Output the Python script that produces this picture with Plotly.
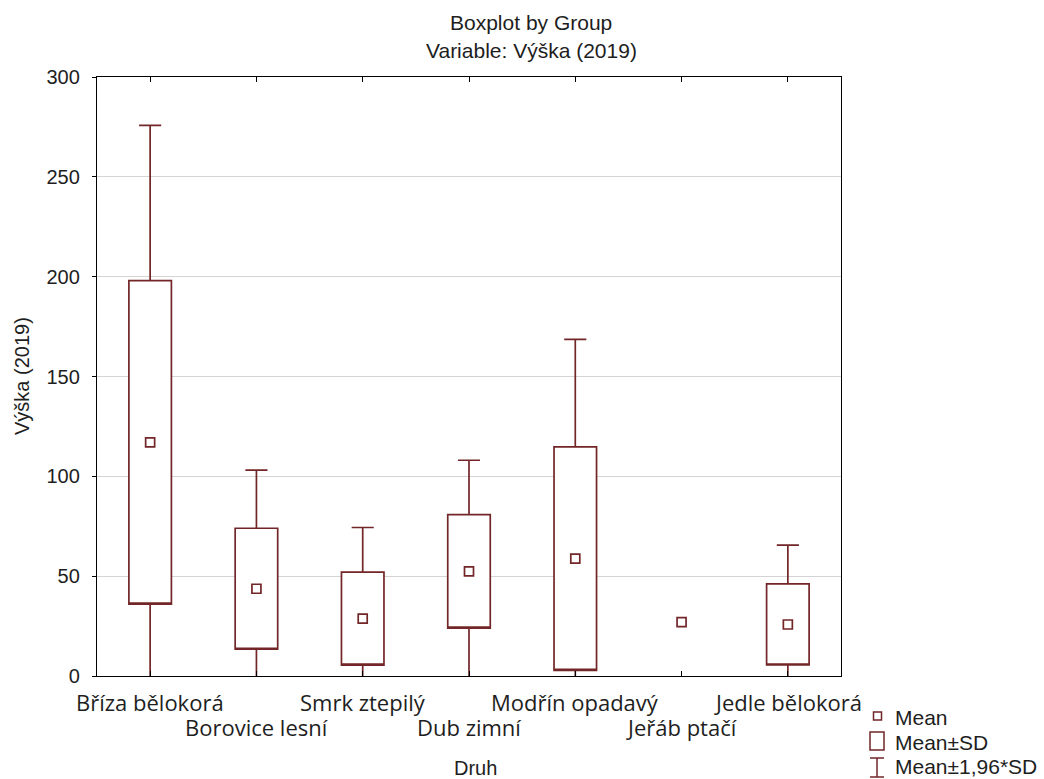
import plotly.graph_objects as go

# Species (Druh) and height statistics for 2019
druh = ["Bříza bělokorá", "Borovice lesní", "Smrk ztepilý", "Dub zimní",
        "Modřín opadavý", "Jeřáb ptačí", "Jedle bělokorá"]
prumer = [117.0, 43.7, 28.7, 52.4, 58.8, 27.0, 25.8]   # mean
smodch = [81.0, 30.3, 23.3, 28.4, 56.0, 0.0, 20.3]     # standard deviation
y_ticks = [0, 50, 100, 150, 200, 250, 300]

W, H = 1044, 779
ML, MR, MT, MB = 97, 203, 77, 103
PW, PH = W - ML - MR, H - MT - MB
RED = "#722628"
FONT = "Liberation Sans"
CAT_FONT = "Open Sans"
TXT = "#1e1e1e"


def px(X):
    return (X - ML) / PW


def py(Y):
    return (H - MB - Y) / PH


# Mean±SD boxes with Mean±1.96*SD whiskers (groups with spread only)
idx = [i for i, s in enumerate(smodch) if s > 0]
bx = [druh[i] for i in idx]
q1 = [prumer[i] - smodch[i] for i in idx]
q3 = [prumer[i] + smodch[i] for i in idx]
lo = [prumer[i] - 1.96 * smodch[i] for i in idx]
hi = [prumer[i] + 1.96 * smodch[i] for i in idx]

fig = go.Figure()
fig.add_trace(go.Box(
    x=bx, q1=q1, median=q1, q3=q3, lowerfence=lo, upperfence=hi,
    width=0.4, whiskerwidth=0.52, fillcolor="white",
    line=dict(color=RED, width=1.7), boxpoints=False,
    hoverinfo="skip", showlegend=False,
))
fig.add_trace(go.Scatter(
    x=druh, y=prumer, mode="markers",
    marker=dict(symbol="square-open", size=9, color=RED, line=dict(width=1.7)),
    showlegend=False,
))

fig.update_layout(
    width=W, height=H,
    margin=dict(l=ML, r=MR, t=MT, b=MB, autoexpand=False),
    paper_bgcolor="white", plot_bgcolor="white",
    font=dict(family=FONT, size=15, color=TXT),
    showlegend=False,
    xaxis=dict(
        type="category", categoryorder="array", categoryarray=druh,
        range=[-0.5, 6.5], tickmode="array", tickvals=druh,
        showticklabels=False, automargin=False,
        ticks="inside", ticklen=5, tickcolor="black", mirror="ticks",
        showline=True, linecolor="black", linewidth=1.3, showgrid=False,
    ),
    yaxis=dict(
        range=[0, 300], tickvals=y_ticks, ticks="outside", ticklen=4,
        tickcolor="black", showline=True, linecolor="black", linewidth=1.3,
        mirror=True, showgrid=True, gridcolor="#d4d4d4", gridwidth=1,
        zeroline=False, automargin=False, ticklabelstandoff=8,
        tickfont=dict(family=FONT, size=20, color=TXT),
    ),
    yaxis2=dict(
        overlaying="y", side="right", range=[0, 300], tickvals=y_ticks,
        ticks="inside", ticklen=5, tickcolor="black", showticklabels=False,
        showgrid=False, zeroline=False, showline=False, automargin=False,
    ),
)


def label(text, X, Y, size, xanchor="center", angle=0, family=FONT):
    fig.add_annotation(x=px(X), y=py(Y), xref="paper", yref="paper",
                       text=text, showarrow=False, xanchor=xanchor,
                       yanchor="middle", textangle=angle,
                       font=dict(family=family, size=size, color=TXT))


# Category labels, alternating between two rows
for i, d in enumerate(druh):
    fig.add_annotation(x=d, y=py(702 if i % 2 == 0 else 727), xref="x",
                       yref="paper", text=d, showarrow=False,
                       xanchor="center", yanchor="middle",
                       font=dict(family=CAT_FONT, size=22, color=TXT))

# Title, axis titles
label("Boxplot by Group", 531, 23, 21)
label("Variable: Výška (2019)", 531, 51, 21)
label("Druh", 475, 768, 20)
label("Výška (2019)", 22, 376, 20, angle=-90)

# Legend key
lw = 1.5
fig.add_shape(type="rect", xref="paper", yref="paper",
              x0=px(873.5), x1=px(881.5), y0=py(720), y1=py(712),
              line=dict(color=RED, width=lw))
fig.add_shape(type="rect", xref="paper", yref="paper",
              x0=px(870), x1=px(884), y0=py(750), y1=py(732),
              line=dict(color=RED, width=lw))
fig.add_shape(type="line", xref="paper", yref="paper",
              x0=px(877), x1=px(877), y0=py(777), y1=py(758),
              line=dict(color=RED, width=lw))
for yy in (758, 777):
    fig.add_shape(type="line", xref="paper", yref="paper",
                  x0=px(870), x1=px(884), y0=py(yy), y1=py(yy),
                  line=dict(color=RED, width=lw))
for text, yy in (("Mean", 717), ("Mean±SD", 742), ("Mean±1,96*SD", 766)):
    label(text, 893, yy, 21, xanchor="left")

fig.write_html("out.html")
